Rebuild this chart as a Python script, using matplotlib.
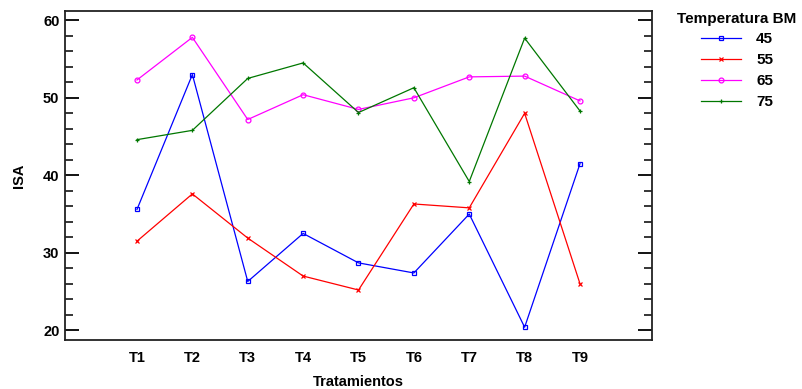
"""
Interaction plot: ISA per treatment for each BM temperature.
"""
import matplotlib
matplotlib.use("Agg")
import matplotlib.pyplot as plt
from matplotlib.ticker import MultipleLocator

plt.rcParams["font.family"] = ["Liberation Sans Narrow", "Liberation Sans", "DejaVu Sans"]
plt.rcParams["font.weight"] = "bold"
plt.rcParams["axes.labelweight"] = "bold"

tratamientos = ["T1", "T2", "T3", "T4", "T5", "T6", "T7", "T8", "T9"]
temperaturas = ["45", "55", "65", "75"]

isa_45 = [35.6, 53.0, 26.3, 32.5, 28.7, 27.4, 35.0, 20.4, 41.5]
isa_55 = [31.5, 37.6, 31.9, 27.0, 25.2, 36.3, 35.8, 48.0, 26.0]
isa_65 = [52.3, 57.8, 47.2, 50.4, 48.5, 50.0, 52.7, 52.8, 49.6]
isa_75 = [44.6, 45.8, 52.5, 54.5, 48.1, 51.3, 39.2, 57.7, 48.3]

series = [isa_45, isa_55, isa_65, isa_75]
colors = ["#0000ff", "#ff0000", "#ff00ff", "#007700"]
markers = ["s", "x", "o", "+"]


def main():
    fig = plt.figure(figsize=(8.03, 3.89), dpi=100)
    ax = fig.add_axes([65 / 803, 1 - 340 / 389, (652 - 65) / 803, (340 - 11) / 389])

    x = list(range(1, len(tratamientos) + 1))
    for vals, lab, c, m in zip(series, temperaturas, colors, markers):
        ax.plot(x, vals, color=c, lw=0.9, marker=m, ms=3.5, mfc="none",
                mec=c, mew=0.9, label=lab)

    ax.set_xlim(-0.3, 10.3)
    ax.set_ylim(18.75, 61.2)
    ax.set_xticks(x)
    ax.set_xticklabels(tratamientos)
    ax.yaxis.set_major_locator(MultipleLocator(10))
    ax.yaxis.set_minor_locator(MultipleLocator(2))
    ax.tick_params(axis="x", length=0, pad=8, labelsize=10.5)
    ax.tick_params(axis="y", which="major", direction="in", length=10, width=1.3,
                   right=True, labelsize=10.5, pad=4)
    ax.tick_params(axis="y", which="minor", direction="in", length=6, width=1.1,
                   right=True)
    for s in ax.spines.values():
        s.set_linewidth(1.3)
        s.set_color("#222222")

    ax.set_ylabel("ISA", fontsize=10.5, fontweight="bold", labelpad=12)
    ax.set_xlabel("Tratamientos", fontsize=10.5, fontweight="bold", labelpad=7)

    leg = ax.legend(title="Temperatura BM", loc="upper left",
                    bbox_to_anchor=(1.02, 1.04), frameon=False,
                    fontsize=11, title_fontsize=11, handlelength=2.6,
                    labelspacing=0.45, handletextpad=1.0)
    leg.get_title().set_fontweight("bold")

    fig.savefig("out.png", dpi=100)


if __name__ == "__main__":
    main()
